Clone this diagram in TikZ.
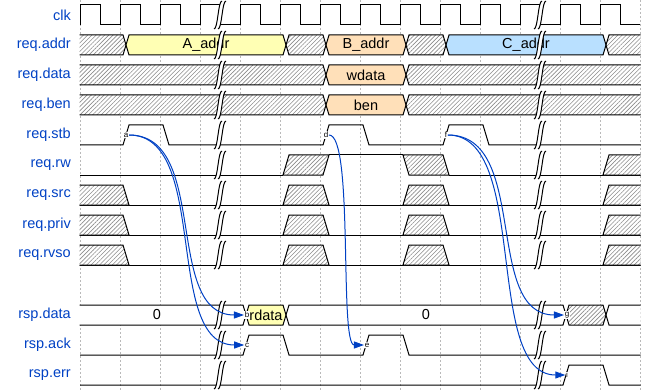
\documentclass[tikz,border=0pt]{standalone}
\usepackage{fontspec}
\setmainfont{Liberation Sans}
\usetikzlibrary{arrows.meta,patterns.meta}
\definecolor{wdlabel}{HTML}{0041C4}
\definecolor{wdyellow}{HTML}{FFFFB4}
\definecolor{wdorange}{HTML}{FFE0B9}
\definecolor{wdcyan}{HTML}{B9E0FF}

\tikzset{
  wave/.style={line width=1pt, black},
  xdata/.style={preaction={fill=white}, pattern={Lines[angle=45,distance=3pt,line width=0.6pt]}, pattern color=black!45},
  gridline/.style={gray!55, line width=0.6pt, dash pattern=on 2pt off 2pt},
  signame/.style={anchor=east, text=wdlabel, inner sep=0pt, font=\fontsize{14.5}{17}\selectfont},
  datatext/.style={inner sep=0pt, font=\fontsize{14.5}{17}\selectfont},
  evlabel/.style={fill=white, inner sep=0.6pt, font=\fontsize{8}{8}\selectfont},
  evarrow/.style={wdlabel, line width=1pt, -{Triangle[length=10pt,width=7pt]}},
}

% bus value: top y, start edge, end edge, fill
\newcommand{\busseg}[4]{\draw[wave,#4] (#2+6,#1+10) -- (#2+9,#1) -- (#3+3,#1) -- (#3+6,#1+10) -- (#3+3,#1+20) -- (#2+9,#1+20) -- cycle;}
% time break: x, top y of the lane
\newcommand{\gapmark}[2]{%
  \fill[white] (#1-6,#2+24) .. controls (#1-2,#2+24) and (#1-2,#2-4) .. (#1+2,#2-4) -- (#1+6,#2-4) .. controls (#1+2,#2-4) and (#1+2,#2+24) .. (#1-2,#2+24) -- cycle;
  \draw[wave] (#1-6,#2+24) .. controls (#1-2,#2+24) and (#1-2,#2-4) .. (#1+2,#2-4);
  \draw[wave] (#1-2,#2+24) .. controls (#1+2,#2+24) and (#1+2,#2-4) .. (#1+6,#2-4);}

\begin{document}
\begin{tikzpicture}[x=1pt, y=-1pt]
  \useasboundingbox (0,0) rectangle (660,390);

  % grid
  \foreach \k in {0,...,14}
    \draw[gridline] (80+40*\k,0) -- (80+40*\k,390);

  % lane names
  \foreach \name/\y in {clk/15, req.addr/45, req.data/75, req.ben/105, req.stb/135, req.rw/165,
      req.src/195, req.priv/225, req.rvso/255, rsp.data/315, rsp.ack/345, rsp.err/375}
    \node[signame] (lbl\y) at (71,\y) {\name};

  \begin{scope}
    \clip (79.5,-10) rectangle (640.5,400);

    % clk
    \foreach \k in {0,...,13}
      \draw[wave] (80+40*\k,25) -- (80+40*\k,5) -- (100+40*\k,5) -- (100+40*\k,25) -- (120+40*\k,25);

    % req.addr
    \busseg{35}{40}{120}{xdata}
    \busseg{35}{120}{280}{fill=wdyellow}
    \busseg{35}{280}{320}{xdata}
    \busseg{35}{320}{400}{fill=wdorange}
    \busseg{35}{400}{440}{xdata}
    \busseg{35}{440}{600}{fill=wdcyan}
    \busseg{35}{600}{700}{xdata}
    % req.data, req.ben
    \foreach \t in {65,95} {
      \busseg{\t}{40}{320}{xdata}
      \busseg{\t}{320}{400}{fill=wdorange}
      \busseg{\t}{400}{700}{xdata}
    }

    % req.stb
    \draw[wave] (80,145) -- (123,145) -- (129,125) -- (163,125) -- (169,145) -- (323,145) -- (329,125)
      -- (363,125) -- (369,145) -- (443,145) -- (449,125) -- (483,125) -- (489,145) -- (645,145);

    % req.rw
    \draw[wave] (80,175) -- (283,175);
    \draw[wave,xdata] (283,175) -- (289,155) -- (329,155) -- (323,175) -- cycle;
    \draw[wave] (329,155) -- (403,155);
    \draw[wave,xdata] (403,155) -- (443,155) -- (449,175) -- (409,175) -- cycle;
    \draw[wave] (449,175) -- (645,175);
    \draw[wave,xdata] (603,175) -- (609,155) -- (645,155) -- (645,175) -- cycle;

    % req.src, req.priv, req.rvso
    \foreach \t in {185,215,245} {
      \draw[wave] (70,\t+20) -- (645,\t+20);
      \draw[wave,xdata] (70,\t) -- (123,\t) -- (129,\t+20) -- (70,\t+20) -- cycle;
      \draw[wave,xdata] (283,\t+20) -- (289,\t) -- (323,\t) -- (329,\t+20) -- cycle;
      \draw[wave,xdata] (403,\t+20) -- (409,\t) -- (443,\t) -- (449,\t+20) -- cycle;
      \draw[wave,xdata] (603,\t+20) -- (609,\t) -- (645,\t) -- (645,\t+20) -- cycle;
    }

    % rsp.data
    \busseg{305}{40}{240}{fill=white}
    \busseg{305}{240}{280}{fill=wdyellow}
    \busseg{305}{280}{560}{fill=white}
    \busseg{305}{560}{600}{xdata}
    \busseg{305}{600}{700}{fill=white}

    % rsp.ack
    \draw[wave] (80,355) -- (243,355) -- (249,335) -- (283,335) -- (289,355) -- (363,355) -- (369,335)
      -- (403,335) -- (409,355) -- (645,355);
    % rsp.err
    \draw[wave] (80,385) -- (563,385) -- (569,365) -- (603,365) -- (609,385) -- (645,385);
  \end{scope}

  % values
  \node[datatext] (aaddr) at (206,45) {A\_addr};
  \node[datatext] (baddr) at (366,45) {B\_addr};
  \node[datatext] (caddr) at (526,45) {C\_addr};
  \node[datatext] (wdata) at (366,75) {wdata};
  \node[datatext] (ben) at (366,105) {ben};
  \node[datatext] (zero1) at (157,315) {0};
  \node[datatext] (rdata) at (266,315) {rdata};
  \node[datatext] (zero2) at (426,315) {0};

  % breaks
  \foreach \t in {5,35,...,245,305,335,365} {
    \gapmark{220}{\t}
    \gapmark{540}{\t}
  }

  % events
  \node[evlabel] (a) at (126,135) {a};
  \node[evlabel] (b) at (247,315) {b};
  \node[evlabel] (c) at (247,345) {c};
  \node[evlabel] (d) at (326,135) {d};
  \node[evlabel] (e) at (367,345) {e};
  \node[evlabel] (f) at (446,135) {f};
  \node[evlabel] (g) at (567,315) {g};
  \node[evlabel] (i) at (567,375) {i};

  \draw[evarrow] (a) .. controls +(84,0) and +(-84,0) .. (b);
  \draw[evarrow] (a) .. controls +(84,0) and +(-84,0) .. (c);
  \draw[evarrow] (d) .. controls +(28,0) and +(-28,0) .. (e);
  \draw[evarrow] (f) .. controls +(84,0) and +(-84,0) .. (g);
  \draw[evarrow] (f) .. controls +(84,0) and +(-84,0) .. (i);
\end{tikzpicture}
\end{document}
